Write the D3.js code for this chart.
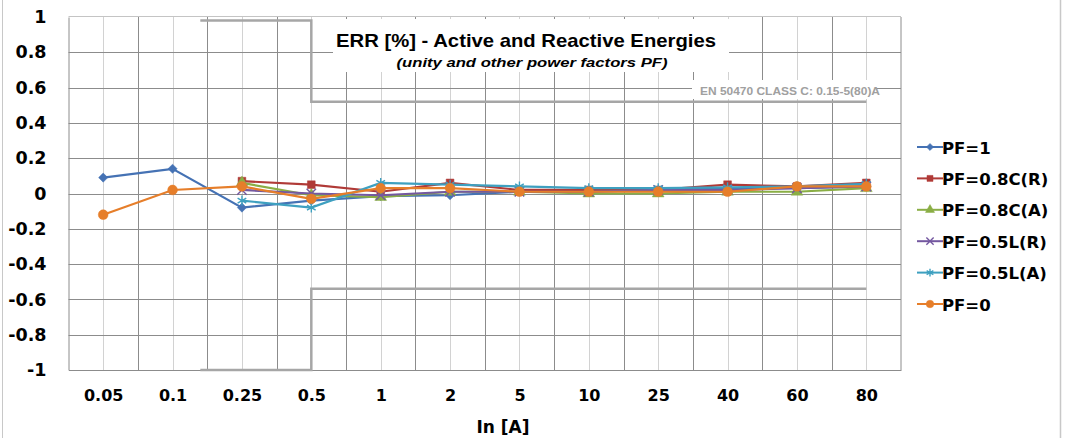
<!DOCTYPE html>
<html>
<head>
<meta charset="utf-8">
<script src="https://cdn.jsdelivr.net/npm/d3@7"></script>
<style>
  body { margin: 0; background: #fff; }
  svg { display: block; }
</style>
</head>
<body>
<div id="chart"></div>
<script>
const categories = ["0.05", "0.1", "0.25", "0.5", "1", "2", "5", "10", "25", "40", "60", "80"];
const yTicks = [-1, -0.8, -0.6, -0.4, -0.2, 0, 0.2, 0.4, 0.6, 0.8, 1];

const seriesNames = ["PF=1", "PF=0.8C(R)", "PF=0.8C(A)", "PF=0.5L(R)", "PF=0.5L(A)", "PF=0"];
const pf1 = [0.09, 0.14, -0.08, -0.04, -0.015, -0.01, 0.01, 0.01, 0.02, 0.03, 0.03, 0.04];
const pf08CR = [null, null, 0.07, 0.05, 0.01, 0.06, 0.02, 0.02, 0.02, 0.05, 0.04, 0.06];
const pf08CA = [null, null, 0.06, -0.01, -0.02, 0.01, 0.01, 0.00, 0.00, 0.01, 0.01, 0.03];
const pf05LR = [null, null, 0.02, 0.00, -0.01, 0.01, 0.01, 0.01, 0.02, 0.02, 0.03, 0.04];
const pf05LA = [null, null, -0.04, -0.08, 0.06, 0.05, 0.04, 0.03, 0.03, 0.035, 0.04, 0.055];
const pf0 = [-0.12, 0.02, 0.04, -0.03, 0.03, 0.03, 0.01, 0.01, 0.01, 0.01, 0.04, 0.04];

// class C limit lines (x given as category index)
const limitIdx = [1.4, 3, 3, 11];
const upperLimit = [0.98, 0.98, 0.52, 0.52];
const lowerLimit = [-1, -1, -0.54, -0.54];

const colors = ["#4572B4", "#B03A37", "#8AAE45", "#7458A0", "#3EA0C0", "#E67E2A"];
const symbols = [d3.symbolSquare, d3.symbolSquare, d3.symbolTriangle, d3.symbolTimes, d3.symbolAsterisk, d3.symbolCircle];

const W = 1065, H = 438;
const plot = {left: 68.5, right: 901, top: 17, bottom: 370};

const svg = d3.select("#chart").append("svg")
    .attr("width", W)
    .attr("height", H)
    .style("font-family", "'DejaVu Sans', sans-serif");

// outer frame bits
svg.append("line").attr("x1", 2.5).attr("x2", 2.5).attr("y1", 0).attr("y2", H)
    .attr("stroke", "#c8c8c8");
svg.append("line").attr("x1", 1060.5).attr("x2", 1060.5).attr("y1", 0).attr("y2", H)
    .attr("stroke", "#c8c8c8").attr("stroke-width", 1.5);

const x = d3.scaleLinear()
    .domain([-0.5, categories.length - 0.5])
    .range([plot.left, plot.right]);

const y = d3.scaleLinear()
    .domain([-1, 1])
    .range([plot.bottom, plot.top]);

const g = svg.append("g");

// vertical gridlines: light at category centres, dark at boundaries
g.selectAll(".vc")
    .data(d3.range(categories.length))
    .join("line")
    .attr("x1", d => Math.round(x(d)) + 0.5)
    .attr("x2", d => Math.round(x(d)) + 0.5)
    .attr("y1", plot.top)
    .attr("y2", plot.bottom)
    .attr("stroke", "#d2d2d2");

g.selectAll(".vb")
    .data(d3.range(1, categories.length))
    .join("line")
    .attr("x1", d => Math.round(x(d - 0.5)) + 0.5)
    .attr("x2", d => Math.round(x(d - 0.5)) + 0.5)
    .attr("y1", plot.top)
    .attr("y2", plot.bottom)
    .attr("stroke", "#8c8c8c");

// horizontal gridlines
g.selectAll(".hg")
    .data(yTicks.slice(1, -1))
    .join("line")
    .attr("x1", plot.left)
    .attr("x2", plot.right)
    .attr("y1", d => Math.round(y(d)) + 0.5)
    .attr("y2", d => Math.round(y(d)) + 0.5)
    .attr("stroke", "#8c8c8c");

// plot border
g.append("line").attr("x1", plot.left).attr("x2", plot.right)
    .attr("y1", plot.top - 0.5).attr("y2", plot.top - 0.5).attr("stroke", "#c4c4c4");
g.append("line").attr("x1", plot.right).attr("x2", plot.right)
    .attr("y1", plot.top).attr("y2", plot.bottom).attr("stroke", "#8c8c8c");

// axes
const yAxis = g.append("g")
    .attr("transform", `translate(${plot.left},0)`)
    .call(d3.axisLeft(y).tickValues(yTicks).tickSize(0).tickPadding(22));
yAxis.select(".domain").attr("stroke", "#8c8c8c");
yAxis.selectAll("text")
    .attr("font-size", 17.5)
    .attr("font-weight", "bold")
    .attr("font-family", "'DejaVu Sans', sans-serif")
    .attr("fill", "#000")
    .text(d => d < 0 ? "-" + Math.abs(d) : String(d));

const xAxis = g.append("g")
    .attr("transform", `translate(0,${plot.bottom})`)
    .call(d3.axisBottom(x).tickValues(d3.range(categories.length)).tickSize(0).tickPadding(20)
        .tickFormat(i => categories[i]));
xAxis.select(".domain").attr("stroke", "#8c8c8c");
xAxis.selectAll("text")
    .attr("font-size", 16)
    .attr("font-weight", "bold")
    .attr("font-family", "'DejaVu Sans', sans-serif")
    .attr("fill", "#000");

svg.append("text")
    .attr("x", 503).attr("y", 433)
    .attr("text-anchor", "middle")
    .attr("font-size", 17).attr("font-weight", "bold")
    .text("In [A]");

// limit lines
const limitLine = d3.line().x(d => x(d[0])).y(d => y(d[1]));
[upperLimit, lowerLimit].forEach(lim => {
    g.append("path")
        .attr("d", limitLine(limitIdx.map((i, k) => [i, lim[k]])))
        .attr("fill", "none")
        .attr("stroke", "#a6a6a6")
        .attr("stroke-width", 2.5);
});

// title box
svg.append("rect").attr("x", 333).attr("y", 19).attr("width", 396).attr("height", 53).attr("fill", "#fff");
svg.append("text")
    .attr("x", 526).attr("y", 47)
    .attr("text-anchor", "middle")
    .attr("font-family", "'Liberation Sans', Arial, sans-serif")
    .attr("font-size", 19).attr("font-weight", "bold")
    .attr("textLength", 380).attr("lengthAdjust", "spacingAndGlyphs")
    .text("ERR [%] - Active and Reactive Energies");
svg.append("text")
    .attr("x", 532).attr("y", 67)
    .attr("text-anchor", "middle")
    .attr("font-family", "'Liberation Sans', Arial, sans-serif")
    .attr("font-size", 12.5).attr("font-weight", "bold").attr("font-style", "italic")
    .attr("textLength", 271).attr("lengthAdjust", "spacingAndGlyphs")
    .text("(unity and other power factors PF)");

// spec label
svg.append("rect").attr("x", 692).attr("y", 80).attr("width", 184).attr("height", 19).attr("fill", "#fff");
svg.append("text")
    .attr("x", 700).attr("y", 95)
    .attr("font-family", "'Liberation Sans', Arial, sans-serif")
    .attr("font-size", 10.5).attr("font-weight", "bold")
    .attr("fill", "#a0a0a0")
    .attr("textLength", 180).attr("lengthAdjust", "spacingAndGlyphs")
    .text("EN 50470 CLASS C: 0.15-5(80)A");

// series
const allSeries = [pf1, pf08CR, pf08CA, pf05LR, pf05LA, pf0];
const line = d3.line()
    .defined(d => d[1] !== null)
    .x(d => x(d[0]))
    .y(d => y(d[1]));

function drawMarker(sel, k, scale) {
    const sizes = [42, 60, 60, 60, 70, 75].map(s => s * scale);
    const filled = k !== 3 && k !== 4;
    sel.attr("d", d3.symbol().type(symbols[k]).size(sizes[k])())
        .attr("fill", filled ? colors[k] : "none")
        .attr("stroke", colors[k])
        .attr("stroke-width", filled ? 0.5 : 1.4);
}

allSeries.forEach((vals, k) => {
    const pts = vals.map((v, i) => [i, v]);
    g.append("path")
        .attr("d", line(pts))
        .attr("fill", "none")
        .attr("stroke", colors[k])
        .attr("stroke-width", 2.2);
    g.selectAll(null)
        .data(pts.filter(d => d[1] !== null))
        .join("path")
        .attr("transform", d => `translate(${x(d[0])},${y(d[1])})` + (k === 0 ? " rotate(45)" : ""))
        .call(drawMarker, k, 1);
});

// legend
const legend = svg.append("g").attr("transform", "translate(917,147)");
seriesNames.forEach((name, k) => {
    const row = legend.append("g").attr("transform", `translate(0,${k * 31.4})`);
    row.append("line").attr("x1", 0).attr("x2", 26).attr("y1", 0).attr("y2", 0)
        .attr("stroke", colors[k]).attr("stroke-width", 2);
    row.append("path").attr("transform", "translate(13,0)" + (k === 0 ? " rotate(45)" : ""))
        .call(drawMarker, k, 0.6);
    row.append("text")
        .attr("x", 25).attr("y", 6.5)
        .attr("font-size", 16.5).attr("font-weight", "bold")
        .text(name);
});
</script>
</body>
</html>
